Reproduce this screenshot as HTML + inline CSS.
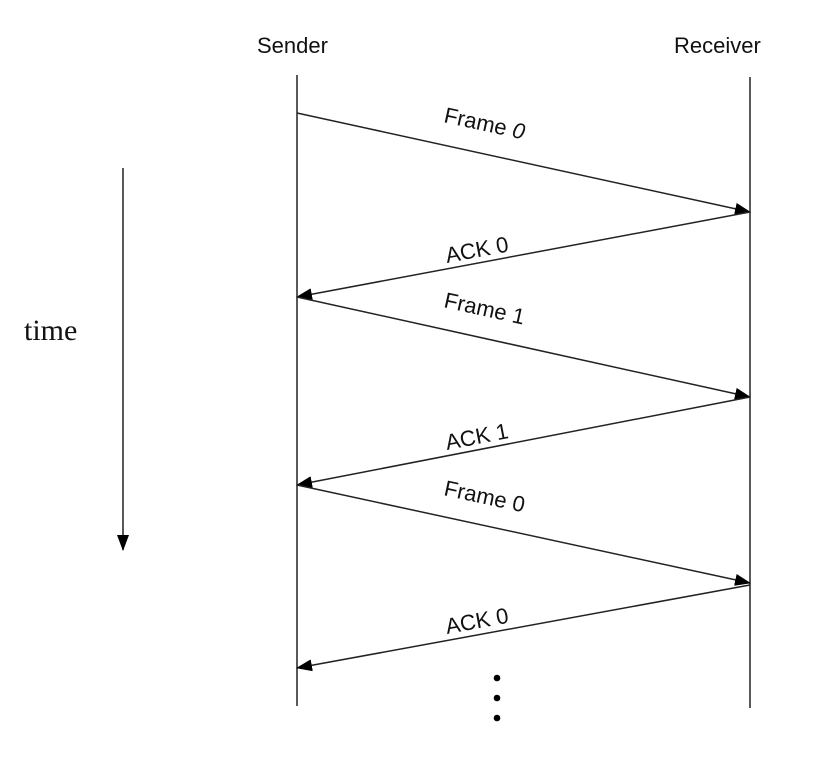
<!DOCTYPE html>
<html><head><style>body{margin:0;background:#fff}</style></head><body>
<svg width="838" height="752" xmlns="http://www.w3.org/2000/svg">
<defs><marker id="a" markerWidth="16" markerHeight="12" refX="15" refY="6" orient="auto" markerUnits="userSpaceOnUse"><path d="M0,0 L16,6 L0,12 Z" fill="#000"/></marker></defs>
<g font-family="Liberation Sans, sans-serif" font-size="22" fill="#111">
<text x="257" y="53">Sender</text>
<text x="674" y="53">Receiver</text>
</g>
<text x="24" y="340" font-family="Liberation Serif, serif" font-size="30" fill="#111">time</text>
<g stroke="#222" stroke-width="1.5" fill="none">
<line x1="297" y1="75" x2="297" y2="706"/>
<line x1="750" y1="77" x2="750" y2="708"/>
<line x1="123" y1="168" x2="123" y2="550" marker-end="url(#a)"/>
<line x1="297" y1="113" x2="750" y2="212" marker-end="url(#a)"/>
<line x1="750" y1="212" x2="297" y2="297" marker-end="url(#a)"/>
<line x1="297" y1="297" x2="750" y2="397" marker-end="url(#a)"/>
<line x1="750" y1="397" x2="297" y2="485" marker-end="url(#a)"/>
<line x1="297" y1="485" x2="750" y2="583" marker-end="url(#a)"/>
<line x1="750" y1="585" x2="297" y2="668" marker-end="url(#a)"/>
</g>
<g font-family="Liberation Sans, sans-serif" font-size="22" fill="#111">
<text transform="translate(443,122) rotate(12.3)">Frame <tspan font-style="italic">0</tspan></text>
<text transform="translate(447,263) rotate(-10.6)">ACK 0</text>
<text transform="translate(443,307) rotate(12.4)">Frame 1</text>
<text transform="translate(447,450) rotate(-11)">ACK 1</text>
<text transform="translate(443,495) rotate(12.2)">Frame 0</text>
<text transform="translate(447,634) rotate(-10.4)">ACK 0</text>
</g>
<g fill="#000"><circle cx="497" cy="678" r="3.3"/><circle cx="497" cy="698" r="3.3"/><circle cx="497" cy="718" r="3.3"/></g>
</svg>
</body></html>
